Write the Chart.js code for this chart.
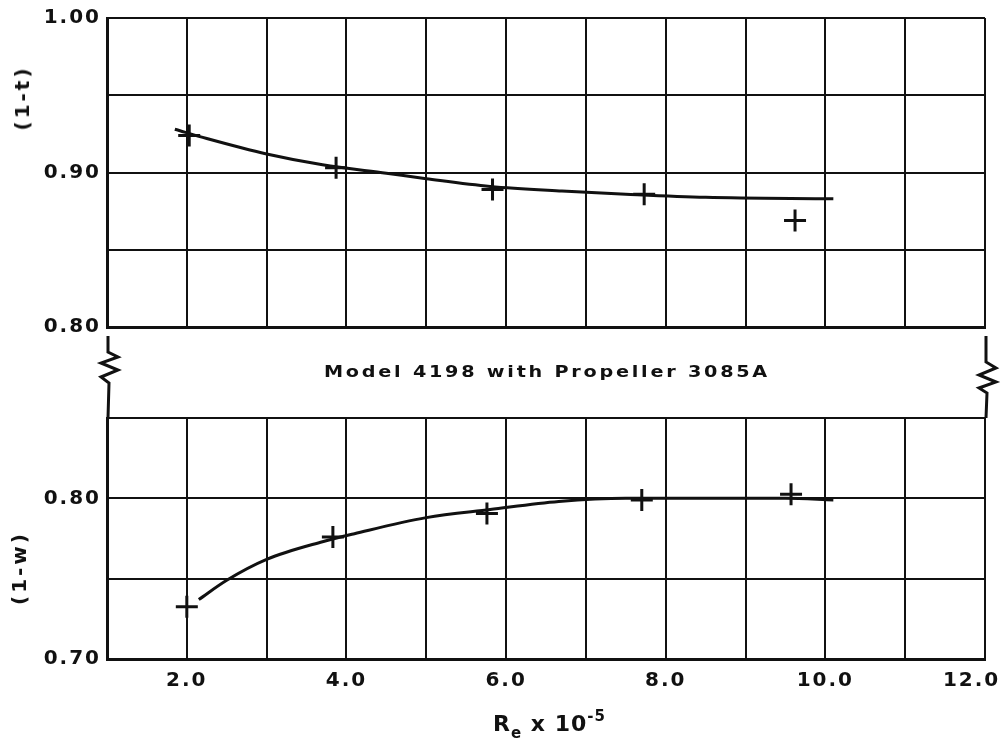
<!DOCTYPE html>
<html>
<head>
<meta charset="utf-8">
<title>Model 4198 with Propeller 3085A</title>
<script src="https://cdn.jsdelivr.net/npm/chart.js@4.4.0/dist/chart.umd.min.js"></script>
<style>
  html, body { margin: 0; padding: 0; background: #fff; width: 1002px; height: 747px; overflow: hidden; }
  body { position: relative; font-family: "DejaVu Sans", sans-serif; color: #111; }
  #topBox { position: absolute; left: 0; top: 0; width: 1002px; height: 345px; }
  #botBox { position: absolute; left: 0; top: 400px; width: 1002px; height: 347px; }
  #band { position: absolute; left: 0; top: 330px; width: 1002px; height: 95px; }
  .ytitle {
    position: absolute; white-space: nowrap; font-size: 20px; font-weight: bold; letter-spacing: 3px;
    transform: translate(-50%, -50%) rotate(-90deg);
  }
  #bandText {
    position: absolute; left: 547px; top: 371px; white-space: nowrap;
    font-size: 16px; font-weight: bold; letter-spacing: 2.3px;
    transform: translate(-50%, -50%) scaleX(1.2);
  }
  #xTitle { position: absolute; left: 493px; top: 705px; font-size: 22px; font-weight: bold; letter-spacing: 1px; white-space: nowrap; line-height: 22px; }
  #xTitle sub { font-size: 15px; vertical-align: -7px; }
  #xTitle sup { font-size: 15px; vertical-align: 10px; }
</style>
</head>
<body>
<div id="topBox"><canvas id="topChart"></canvas></div>
<div id="botBox"><canvas id="botChart"></canvas></div>

<svg id="band" width="1002" height="95" viewBox="0 330 1002 95">
  <polyline points="108,336 108,352 118,357 101,363 118,370 101,377 109,383 108,418"
            fill="none" stroke="#111" stroke-width="3" stroke-linejoin="miter"/>
  <polyline points="986,336 986,362 996,368 979,375 996,382 979,388 987,393 986,418"
            fill="none" stroke="#111" stroke-width="3" stroke-linejoin="miter"/>
</svg>

<div class="ytitle" style="left:22px; top:98px;">(1-t)</div>
<div class="ytitle" style="left:19px; top:568px;">(1-w)</div>
<div id="bandText">Model 4198 with Propeller 3085A</div>
<div id="xTitle">R<sub>e</sub> x 10<sup>-5</sup></div>

<script>
// Re x 10^-5 range and x tick labels
const xMin = 1;
const xMax = 12;
const xLabels = ['2.0', '4.0', '6.0', '8.0', '10.0', '12.0'];

// (1-t) test points and faired curve
const tRe = [2.03, 3.87, 5.83, 7.73, 9.62];
const tVal = [0.924, 0.903, 0.889, 0.886, 0.869];
const tCurveRe = [1.85, 2.25, 3.0, 3.7, 4.5, 5.0, 5.8, 6.7, 7.5, 8.5, 10.1];
const tCurveVal = [0.928, 0.922, 0.912, 0.905, 0.8995, 0.896, 0.891, 0.888, 0.886, 0.884, 0.883];
const tTicks = ['1.00', '0.90', '0.80'];

// (1-w) test points and faired curve
const wRe = [2.0, 3.83, 5.76, 7.70, 9.57];
const wVal = [0.7325, 0.776, 0.7906, 0.799, 0.8025];
const wCurveRe = [2.15, 2.5, 3.0, 3.7, 4.1, 5.0, 5.8, 6.66, 7.5, 8.5, 9.5, 10.1];
const wCurveVal = [0.737, 0.749, 0.762, 0.773, 0.778, 0.788, 0.793, 0.798, 0.800, 0.800, 0.800, 0.799];
const wTicks = ['0.80', '0.70'];

const ink = '#111';
const tickFont = { family: 'DejaVu Sans', size: 20, weight: 'bold' };

const toXY = (xs, ys) => xs.map((x, i) => ({ x: x, y: ys[i] }));

// wider lettering, like the stencil text of the original
const spacing = {
  id: 'spacing',
  beforeDraw(chart) { chart.ctx.letterSpacing = '2px'; }
};

function xScale(showLabels) {
  return {
    type: 'linear',
    min: xMin,
    max: xMax,
    afterFit(axis) {
      axis.paddingLeft = 0;
      axis.paddingRight = 0;
      axis.height = showLabels ? 88 : 0;
    },
    ticks: {
      display: showLabels,
      stepSize: 1,
      autoSkip: false,
      maxRotation: 0,
      padding: 10,
      color: ink,
      font: tickFont,
      callback: v => {
        const s = v.toFixed(1);
        if (!xLabels.includes(s)) return '';
        // last label sits left of the frame edge in the original
        return s === '12.0' ? s + '   ' : s;
      }
    },
    grid: { color: ink, lineWidth: 2, drawTicks: false },
    border: { color: ink, width: 3 }
  };
}

function yScale(min, max, labels) {
  return {
    type: 'linear',
    min: min,
    max: max,
    afterFit(axis) { axis.width = 107; },
    ticks: {
      stepSize: 0.05,
      padding: 6,
      color: ink,
      font: tickFont,
      callback: v => {
        const s = v.toFixed(2);
        return labels.includes(s) ? s : '';
      }
    },
    grid: { color: ink, lineWidth: 2, drawTicks: false },
    border: { color: ink, width: 3 }
  };
}

function datasets(re, val, curveRe, curveVal) {
  return [
    {
      data: toXY(re, val),
      showLine: false,
      pointStyle: 'cross',
      pointRadius: 11,
      pointBorderWidth: 3,
      pointBorderColor: ink
    },
    {
      data: toXY(curveRe, curveVal),
      showLine: true,
      borderColor: ink,
      borderWidth: 3,
      cubicInterpolationMode: 'monotone',
      pointRadius: 0
    }
  ];
}

function makeChart(id, ds, x, y, padding) {
  return new Chart(document.getElementById(id), {
    type: 'scatter',
    data: { datasets: ds },
    options: {
      responsive: true,
      maintainAspectRatio: false,
      animation: false,
      layout: { padding: padding },
      plugins: { legend: { display: false }, tooltip: { enabled: false } },
      scales: { x: x, y: y }
    },
    plugins: [spacing]
  });
}

makeChart('topChart',
  datasets(tRe, tVal, tCurveRe, tCurveVal),
  xScale(false),
  yScale(0.80, 1.00, tTicks),
  { left: 0, right: 17, top: 16, bottom: 9 });

makeChart('botChart',
  datasets(wRe, wVal, wCurveRe, wCurveVal),
  xScale(true),
  yScale(0.70, 0.85, wTicks),
  { left: 0, right: 17, top: 18, bottom: 0 });
</script>
</body>
</html>
